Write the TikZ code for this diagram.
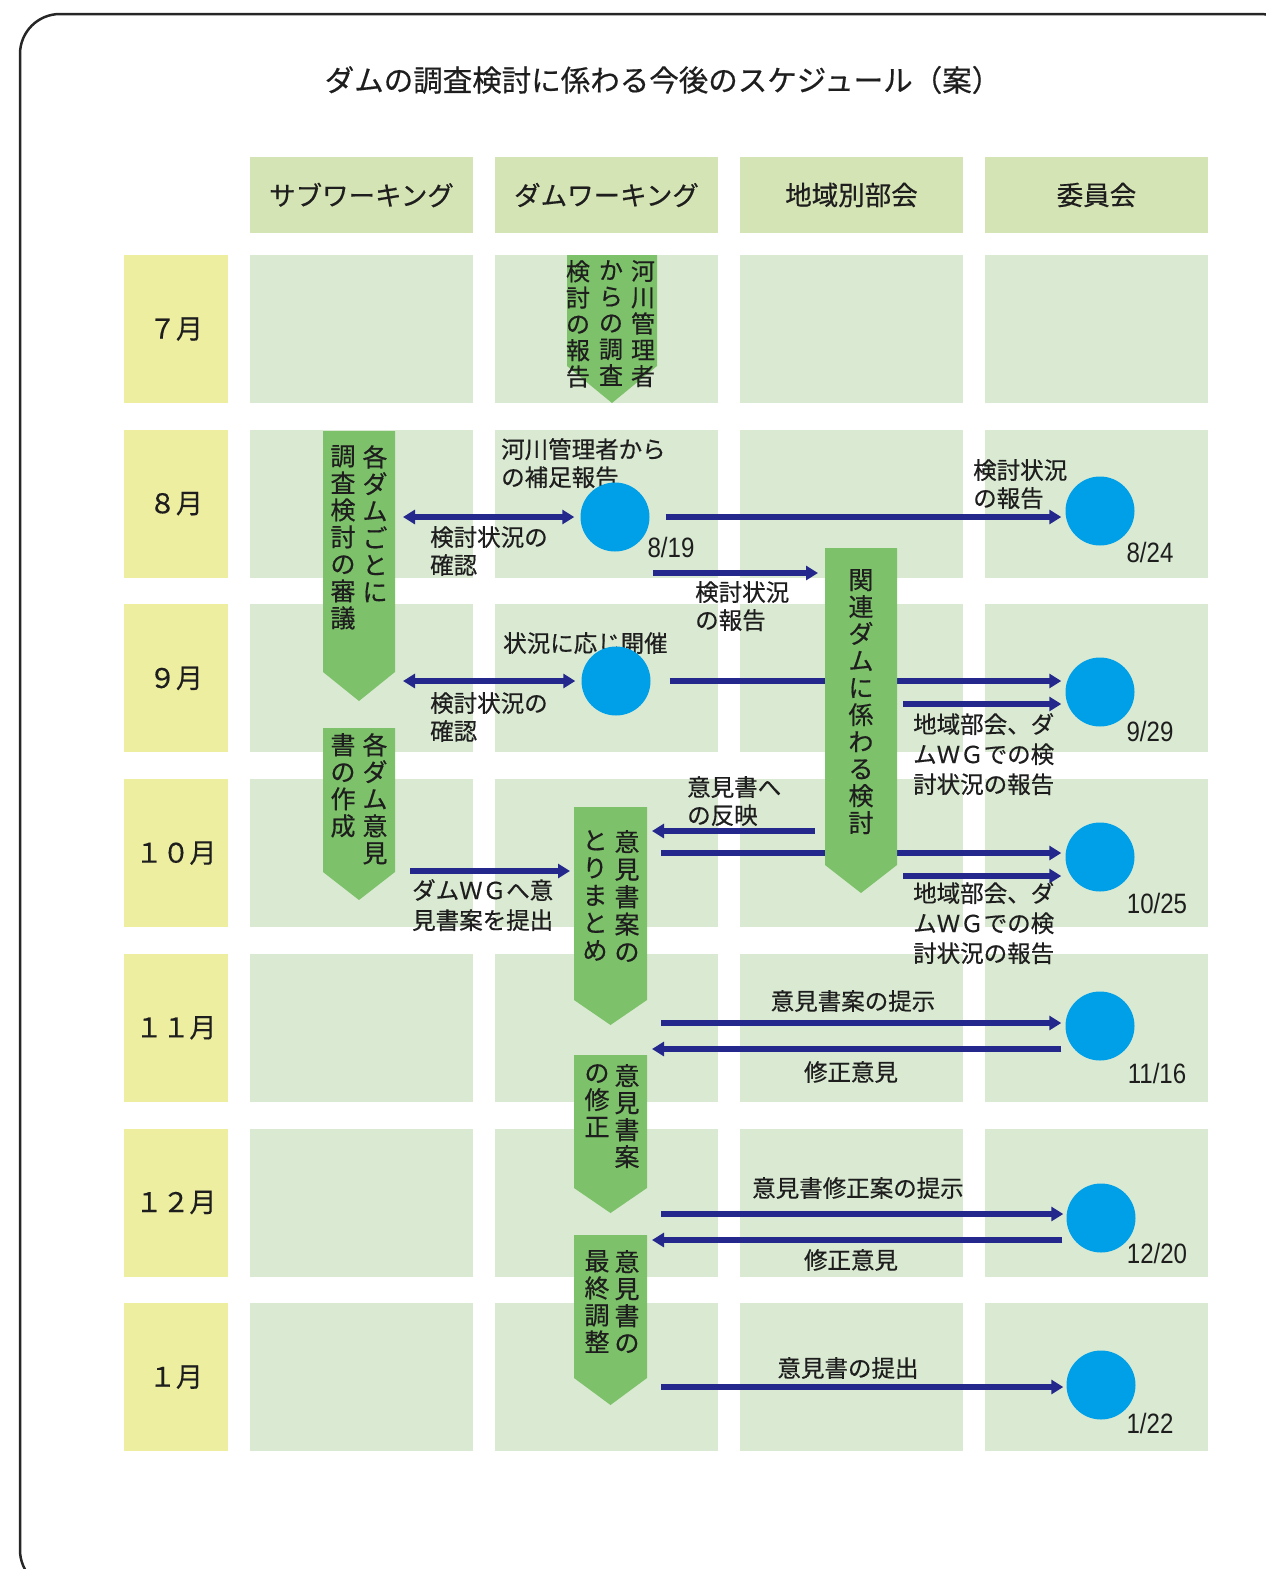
\documentclass[tikz,border=0pt]{standalone}
\usepackage{fontspec}
\usepackage{graphicx}
\setmainfont{Noto Sans CJK JP}[FakeBold=0.5]
\newfontfamily\datefont{Liberation Sans}
\usetikzlibrary{arrows.meta,calc}
\definecolor{cellc}{RGB}{218,234,210}
\definecolor{hdrc}{RGB}{213,228,180}
\definecolor{monc}{RGB}{237,238,160}
\definecolor{grc}{RGB}{125,194,106}
\definecolor{dotc}{RGB}{0,160,233}
\definecolor{navy}{RGB}{36,40,140}
\definecolor{txtc}{RGB}{30,30,30}
\pgfdeclarelayer{back}
\pgfdeclarelayer{mid}
\pgfsetlayers{back,mid,main}
\newcommand\gnode[5]{\node[gbox, minimum width={#4-#2}, minimum height={#5-#3}] (#1) at (#2,#3) {};}
\newcommand\gfill[2]{\fill[grc] (#1.north west) -- (#1.north east) -- (#1.south east) -- ($(#1.south)+(0,#2)$) -- (#1.south west) -- cycle;}
\newcommand\dt[1]{\scalebox{0.86}[1]{#1}}
\begin{document}
\begin{tikzpicture}[x=1pt,y=-1pt,
  gbox/.style={anchor=north west, inner sep=0, outer sep=0, draw=none},
  hdr/.style={fill=hdrc, minimum width=223pt, minimum height=76pt, inner sep=0, font=\fontsize{26.5}{26.5}\selectfont, text=txtc},
  mon/.style={fill=monc, minimum width=104pt, minimum height=148pt, inner sep=0, font=\fontsize{27}{27}\selectfont, text=txtc},
  cell/.style={fill=cellc, minimum width=223pt, minimum height=148pt, inner sep=0},
  vt/.style={font=\fontsize{25}{27}\selectfont, align=center, inner sep=0, anchor=north, text=txtc},
  lbl/.style={font=\fontsize{23.5}{28}\selectfont, align=left, inner sep=0, anchor=north west, text=txtc},
  lblc/.style={font=\fontsize{23.5}{28}\selectfont, inner sep=0, text=txtc},
  dot/.style={circle, fill=dotc, minimum size=69pt, inner sep=0},
  date/.style={font=\datefont\fontsize{28}{28}\selectfont, inner sep=0, text=txtc},
  barrow/.style={draw=navy, line width=5.5pt, -{Triangle[length=12pt,width=14pt]}},
  barrowtwo/.style={draw=navy, line width=5.5pt, {Triangle[length=12pt,width=14pt]}-{Triangle[length=12pt,width=14pt]}}
]
\useasboundingbox (0,0) rectangle (1266,1569);
\begin{pgfonlayer}{back}
\begin{scope}
\clip (0,0) rectangle (1266,1569);
\draw[line width=2.5pt, draw=black!85, rounded corners=40pt] (20,14) rectangle (1300,1590);
\end{scope}
\foreach \i/\txt in {0/サブワーキング,1/ダムワーキング,2/地域別部会,3/委員会}
  \node[hdr] (h\i) at ({361.5+245*\i},195) {\txt};
\foreach \r/\txt in {0/７月,1/８月,2/９月,3/１０月,4/１１月,5/１２月,6/１月}
  \node[mon] (m\r) at (176,{329+174.7*\r}) {\txt};
\foreach \r in {0,...,6}
  \foreach \c in {0,...,3}
    \node[cell] (c\r\c) at ({361.5+245*\c},{329+174.7*\r}) {};
\end{pgfonlayer}

\node[font=\fontsize{29.5}{30}\selectfont, text=txtc] (title) at (663,80) {ダムの調査検討に係わる今後のスケジュール（案）};

% green arrows
\gnode{A1}{567}{255}{657}{366} \gfill{A1}{37}
\gnode{A2}{323}{431}{395}{672} \gfill{A2}{29}
\gnode{A3}{323}{728}{395}{872} \gfill{A3}{28}
\gnode{A4}{825}{548}{897}{865} \gfill{A4}{28}
\gnode{A5}{574}{807}{647}{1000} \gfill{A5}{25}
\gnode{A6}{574}{1055}{647}{1188} \gfill{A6}{25}
\gnode{A7}{574}{1235}{647}{1378} \gfill{A7}{27}

% vertical texts
\node[vt, font=\fontsize{24}{26.3}\selectfont] (v1a) at (643,260) {河\\川\\管\\理\\者};
\node[vt, font=\fontsize{24}{26.3}\selectfont] (v1b) at (611,260) {か\\ら\\の\\調\\査};
\node[vt, font=\fontsize{24}{26.3}\selectfont] (v1c) at (578,260) {検\\討\\の\\報\\告};
\node[vt] (v2a) at (375,445) {各\\ダ\\ム\\ご\\と\\に};
\node[vt] (v2b) at (343,445) {調\\査\\検\\討\\の\\審\\議};
\node[vt] (v3a) at (375,733) {各\\ダ\\ム\\意\\見};
\node[vt] (v3b) at (343,733) {書\\の\\作\\成};
\node[vt] (v4) at (861,569) {関\\連\\ダ\\ム\\に\\係\\わ\\る\\検\\討};
\node[vt, font=\fontsize{25}{27.5}\selectfont] (v5a) at (627,830) {意\\見\\書\\案\\の};
\node[vt, font=\fontsize{25}{27.5}\selectfont] (v5b) at (595,830) {と\\り\\ま\\と\\め};
\node[vt] (v6a) at (627,1064) {意\\見\\書\\案};
\node[vt] (v6b) at (597,1064) {の\\修\\正};
\node[vt] (v7a) at (627,1250) {意\\見\\書\\の};
\node[vt] (v7b) at (597,1250) {最\\終\\調\\整};

% labels
\node[lbl] (L1) at (501,438) {河川管理者から\\の補足報告};
\node[lbl] (L2) at (430,526) {検討状況の\\確認};
\node[lbl] (L3) at (973,459) {検討状況\\の報告};
\node[lbl] (L4) at (695,581) {検討状況\\の報告};
\node[lbl] (L5) at (503,632) {状況に応じ開催};
\node[lbl] (L6) at (430,692) {検討状況の\\確認};
\node[lbl, font=\fontsize{23.5}{30}\selectfont] (L7) at (913,713) {地域部会、ダ\\ムＷＧでの検\\討状況の報告};
\node[lbl] (L8) at (687,776) {意見書へ\\の反映};
\node[lbl, font=\fontsize{23.5}{30}\selectfont] (L9) at (913,882) {地域部会、ダ\\ムＷＧでの検\\討状況の報告};
\node[lbl, font=\fontsize{23.5}{30}\selectfont] (L10) at (412,879) {ダムＷＧへ意\\見書案を提出};
\node[lblc] (L11) at (853,1001) {意見書案の提示};
\node[lblc] (L12) at (851,1072) {修正意見};
\node[lblc] (L13) at (858,1188) {意見書修正案の提示};
\node[lblc] (L14) at (851,1260) {修正意見};
\node[lblc] (L15) at (848,1368) {意見書の提出};

% circles
\node[dot] (d819) at (615,517) {};
\node[dot] (d9) at (616,681) {};
\node[dot] (d824) at (1100,511) {};
\node[dot] (d929) at (1100,692) {};
\node[dot] (d1025) at (1100,857) {};
\node[dot] (d1116) at (1100,1026) {};
\node[dot] (d1220) at (1101,1218) {};
\node[dot] (d122) at (1101,1385) {};

% dates
\node[date] (t819) at (671,547) {\dt{8/19}};
\node[date] (t824) at (1150,552) {\dt{8/24}};
\node[date] (t929) at (1150,731) {\dt{9/29}};
\node[date] (t1025) at (1157,903) {\dt{10/25}};
\node[date] (t1116) at (1157,1073) {\dt{11/16}};
\node[date] (t1220) at (1157,1253) {\dt{12/20}};
\node[date] (t122) at (1150,1423) {\dt{1/22}};

% blue connectors
\begin{pgfonlayer}{mid}
\draw[barrowtwo] ($(A2.east |- d819)+(8,0)$) -- ($(d819.west)+(-6,0)$);
\draw[barrow] ($(d819.east)+(16,0)$) -- ($(d819.east -| d824.west)+(-4,0)$);
\coordinate (c1) at (653,573);
\draw[barrow, shorten >=7pt] (c1) -- (c1 -| A4.west);
\draw[barrowtwo] ($(A2.east |- d9)+(8,0)$) -- ($(d9.west)+(-6,0)$);
\draw[barrow] ($(d9.east)+(19,0)$) -- ($(d9.east -| d929.west)+(-4,0)$);
\coordinate (f1) at (903,704);
\draw[barrow, shorten >=4pt] (f1) -- (f1 -| d929.west);
\coordinate (i1) at (815,831);
\draw[barrow, shorten >=5pt] (i1) -- (i1 -| A5.east);
\coordinate (j1) at (661,853);
\draw[barrow, shorten >=4pt] (j1) -- (j1 -| d1025.west);
\coordinate (k1) at (903,876);
\draw[barrow, shorten >=4pt] (k1) -- (k1 -| d1025.west);
\coordinate (l1) at (410,871);
\draw[barrow, shorten >=4pt] (l1) -- (l1 -| A5.west);
\coordinate (m1) at (661,1023);
\draw[barrow, shorten >=4pt] (m1) -- (m1 -| d1116.west);
\coordinate (n1) at (661,1049);
\draw[barrow, shorten <=4pt, shorten >=5pt] (d1116.west |- n1) -- (n1 -| A6.east);
\coordinate (o1) at (661,1214);
\draw[barrow, shorten >=3pt] (o1) -- (o1 -| d1220.west);
\coordinate (p1) at (661,1240);
\draw[barrow, shorten <=4pt, shorten >=5pt] (d1220.west |- p1) -- (p1 -| A7.east);
\coordinate (q1) at (661,1387);
\draw[barrow, shorten >=3pt] (q1) -- (q1 -| d122.west);
\end{pgfonlayer}
\end{tikzpicture}
\end{document}
